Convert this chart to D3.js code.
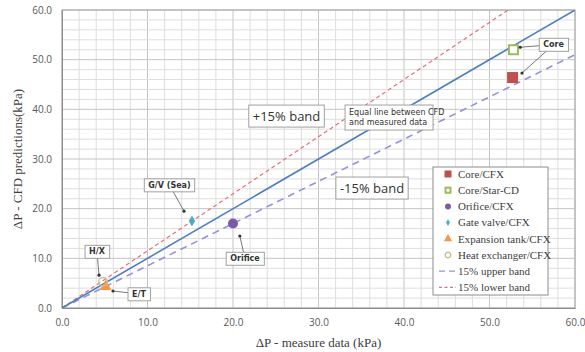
<!DOCTYPE html>
<html>
<head>
<meta charset="utf-8">
<script src="https://cdn.jsdelivr.net/npm/d3@7"></script>
<style>
  body { margin: 0; background: #fff; }
  svg { display: block; }
</style>
</head>
<body>
<script>
// data
const series = ['Core/CFX', 'Core/Star-CD', 'Orifice/CFX', 'Gate valve/CFX', 'Expansion tank/CFX', 'Heat exchanger/CFX']
const measured = [52.7, 52.8, 20.0, 15.2, 5.1, 4.8]
const predicted = [46.4, 52.0, 17.0, 17.5, 4.3, 5.3]
const bandNames = ['15% upper band', '15% lower band']
const bandFactors = [0.85, 1.15]
const ticks = [0, 10, 20, 30, 40, 50, 60]

// callouts: [text, box centre x, y (data), target points]
const callouts = [
  ['Core', 57.5, 53.05, [[53.6, 52.5], [53.8, 47.3]]],
  ['G/V (Sea)', 12.57, 24.76, [[14.27, 19.5]]],
  ['H/X', 4.09, 11.37, [[4.33, 6.6]]],
  ['E/T', 9.0, 2.82, [[5.96, 3.42]]],
  ['Orifice', 21.4, 9.97, [[20.8, 14.5]]]
]
const notes = [
  ['+15% band', 26.26, 38.55],
  ['-15% band', 36.26, 24.06]
]

const width = 585
const height = 352
const m = { left: 62, right: 10, top: 10, bottom: 44 }

const svg = d3.select('body').append('svg')
  .attr('width', width)
  .attr('height', height)

const x = d3.scaleLinear().domain([0, 60]).range([m.left, width - m.right])
const y = d3.scaleLinear().domain([0, 60]).range([height - m.bottom, m.top])

// grid
const minor = d3.range(0, 61, 2)
svg.append('g').selectAll('line.vx').data(minor).enter().append('line')
  .attr('x1', d => x(d)).attr('x2', d => x(d))
  .attr('y1', y(0)).attr('y2', y(60))
  .attr('stroke', d => d % 10 === 0 ? '#c4c4c4' : '#dedede')
  .attr('stroke-width', 1)
svg.append('g').selectAll('line.hy').data(minor).enter().append('line')
  .attr('y1', d => y(d)).attr('y2', d => y(d))
  .attr('x1', x(0)).attr('x2', x(60))
  .attr('stroke', d => d % 10 === 0 ? '#c4c4c4' : '#dedede')
  .attr('stroke-width', 1)

svg.append('rect')
  .attr('x', x(0)).attr('y', y(60))
  .attr('width', x(60) - x(0)).attr('height', y(0) - y(60))
  .attr('fill', 'none').attr('stroke', '#a6a6a6')

// axes
const xAxis = svg.append('g')
  .attr('transform', `translate(0,${y(0)})`)
  .call(d3.axisBottom(x).tickValues(ticks).tickFormat(d3.format('.1f')).tickSize(0).tickPadding(11))
const yAxis = svg.append('g')
  .attr('transform', `translate(${x(0)},0)`)
  .call(d3.axisLeft(y).tickValues(ticks).tickFormat(d3.format('.1f')).tickSize(0).tickPadding(10))
for (const a of [xAxis, yAxis]) {
  a.select('.domain').attr('stroke', '#8c8c8c')
  a.selectAll('text').attr('fill', '#595959')
    .style('font-family', '"Open Sans", sans-serif').style('font-size', '10px')
}

svg.append('text')
  .attr('x', (x(0) + x(60)) / 2).attr('y', 347)
  .attr('text-anchor', 'middle')
  .style('font-family', '"Liberation Serif", serif').style('font-size', '13px')
  .attr('fill', '#404040')
  .text('ΔP - measure data (kPa)')
svg.append('text')
  .attr('transform', `translate(22,${(y(0) + y(60)) / 2}) rotate(-90)`)
  .attr('text-anchor', 'middle')
  .style('font-family', '"Liberation Serif", serif').style('font-size', '13px')
  .attr('fill', '#404040')
  .text('ΔP - CFD predictions(kPa)')

// clip for lines
svg.append('clipPath').attr('id', 'plot').append('rect')
  .attr('x', x(0)).attr('y', y(60))
  .attr('width', x(60) - x(0)).attr('height', y(0) - y(60))

const lines = svg.append('g').attr('clip-path', 'url(#plot)')
const line = d3.line().x(d => x(d[0])).y(d => y(d[1]))
const bandStyle = [
  { stroke: '#8f93e0', dash: '7,5', w: 1.6 },
  { stroke: '#e3707c', dash: '4,3', w: 1.2 }
]
bandFactors.forEach((f, i) => {
  lines.append('path')
    .attr('d', line([[0, 0], [60, 60 * f]]))
    .attr('fill', 'none')
    .attr('stroke', bandStyle[i].stroke)
    .attr('stroke-width', bandStyle[i].w)
    .attr('stroke-dasharray', bandStyle[i].dash)
})
lines.append('path')
  .attr('d', line([[0, 0], [60, 60]]))
  .attr('fill', 'none')
  .attr('stroke', '#4f7fbf')
  .attr('stroke-width', 1.6)

// markers
const colors = ['#c0504d', '#9bbb59', '#7a5ca6', '#4bacc6', '#f79646', '#c8c09a']
function marker (g, i, s) {
  const c = colors[i]
  if (i === 0) {
    g.append('rect').attr('x', -s / 2).attr('y', -s / 2).attr('width', s).attr('height', s).attr('fill', c)
  } else if (i === 1) {
    g.append('rect').attr('x', -s / 2 + 1).attr('y', -s / 2 + 1).attr('width', s - 2).attr('height', s - 2)
      .attr('fill', 'white').attr('stroke', c).attr('stroke-width', 2)
  } else if (i === 2) {
    g.append('circle').attr('r', s / 2).attr('fill', c)
  } else if (i === 3) {
    g.append('path').attr('d', d3.symbol(d3.symbolDiamond, s * s * 0.55)()).attr('fill', c)
  } else if (i === 4) {
    g.append('path').attr('d', d3.symbol(d3.symbolTriangle, s * s * 0.6)()).attr('fill', c)
  } else {
    g.append('circle').attr('r', s / 2 - 0.7).attr('fill', 'none').attr('stroke', c).attr('stroke-width', 1.4)
  }
}
const sizes = [11, 11, 10, 8, 10, 10]
series.forEach((name, i) => {
  const g = svg.append('g').attr('transform', `translate(${x(measured[i])},${y(predicted[i])})`)
  marker(g, i, sizes[i])
})

// callouts
const box = (cx, cy, text, fs, weight, family) => {
  const g = svg.append('g').attr('transform', `translate(${x(cx)},${y(cy)})`)
  const t = g.append('text')
    .attr('text-anchor', 'middle').attr('dy', '0.35em')
    .style('font-family', family).style('font-size', fs + 'px').style('font-weight', weight)
    .attr('fill', '#333')
    .text(text)
  const bb = t.node().getBBox()
  g.insert('rect', 'text')
    .attr('x', bb.x - 4).attr('y', bb.y - 2)
    .attr('width', bb.width + 8).attr('height', bb.height + 4)
    .attr('fill', 'white').attr('stroke', '#a0a0a0').attr('stroke-width', 1)
  return g
}
callouts.forEach(([text, cx, cy, targets]) => {
  const bx = x(cx)
  const by = y(cy)
  targets.forEach(([tx, ty]) => {
    svg.append('line')
      .attr('x1', bx).attr('y1', by).attr('x2', x(tx)).attr('y2', y(ty))
      .attr('stroke', '#555').attr('stroke-width', 0.8)
    svg.append('circle').attr('cx', x(tx)).attr('cy', y(ty)).attr('r', 1.6).attr('fill', '#333')
  })
})
callouts.forEach(([text, cx, cy]) => box(cx, cy, text, 8, 'bold', '"DejaVu Sans", sans-serif'))
notes.forEach(([text, cx, cy]) => box(cx, cy, text, 13, 'normal', '"Open Sans", sans-serif'))

// equal-line note, two lines
const eq = svg.append('g').attr('transform', `translate(${x(38.25)},${y(38.35)})`)
eq.append('rect').attr('x', -44).attr('y', -12.5).attr('width', 88).attr('height', 25)
  .attr('fill', 'white').attr('stroke', '#a0a0a0')
eq.selectAll('text').data(['Equal line between CFD', 'and measured data']).enter().append('text')
  .attr('x', -40).attr('y', (d, i) => -3 + i * 10)
  .style('font-family', '"DejaVu Sans", sans-serif').style('font-size', '8px')
  .attr('fill', '#333')
  .text(d => d)

// legend
const lg = svg.append('g').attr('transform', 'translate(433,167)')
lg.append('rect').attr('width', 115).attr('height', 128)
  .attr('fill', 'white').attr('stroke', '#8c8c8c')
const legendNames = series.concat(bandNames)
legendNames.forEach((name, i) => {
  const row = lg.append('g').attr('transform', `translate(0,${7 + i * 16.2})`)
  if (i < series.length) {
    const g = row.append('g').attr('transform', 'translate(15,0)')
    marker(g, i, [7, 7, 6, 5, 7, 7][i])
  } else {
    const st = bandStyle[i - series.length]
    row.append('line').attr('x1', 6).attr('x2', 23).attr('y1', 0).attr('y2', 0)
      .attr('stroke', st.stroke).attr('stroke-width', 1.3)
      .attr('stroke-dasharray', i === series.length ? '6,4' : '3,2.5')
  }
  row.append('text').attr('x', 25).attr('dy', '0.35em')
    .style('font-family', '"Liberation Serif", serif').style('font-size', '11px')
    .attr('fill', '#404040')
    .text(name)
})
</script>
</body>
</html>
